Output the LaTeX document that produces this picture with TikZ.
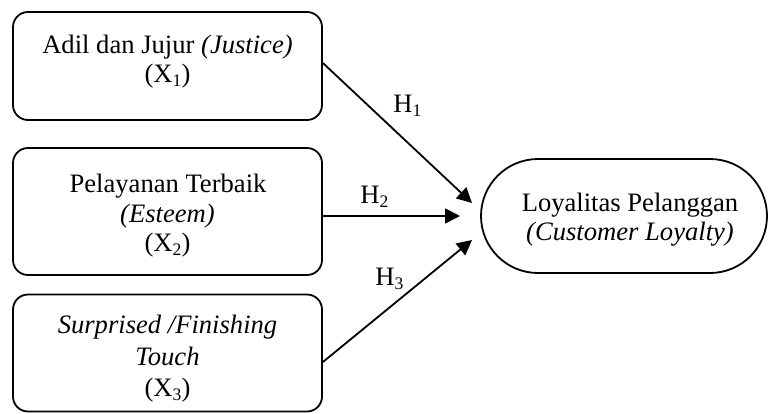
\documentclass[tikz,border=0pt]{standalone}
\usepackage{fontspec}
\setmainfont{Liberation Serif}
\usetikzlibrary{arrows.meta}
\newcommand\sbs[1]{\raisebox{-0.35ex}{\fontsize{8.8}{9}\selectfont #1}}
\begin{document}
\begin{tikzpicture}[x=0.5pt,y=-0.5pt,
  box/.style={draw,line width=0.9pt,rounded corners=7.5pt,minimum width=154.5pt,inner sep=0pt},
  stadium/.style={draw,line width=0.9pt,rounded corners=28.5pt,minimum width=143pt,minimum height=57pt,inner sep=0pt},
  txt/.style={font=\fontsize{13.3}{15}\selectfont,anchor=base,inner sep=0pt},
  hlab/.style={font=\fontsize{13.3}{15}\selectfont,anchor=base west,inner sep=0pt},
  conn/.style={line width=0.9pt,-{Triangle[length=7.5pt,width=7.5pt]}}]
\useasboundingbox (0,0) rectangle (769,413);
% boxes
\node[box,minimum height=54pt] (x1) at (167.5,66) {};
\node[box,minimum height=63.5pt] (x2) at (167.5,211.5) {};
\node[box,minimum height=58.5pt] (x3) at (167.5,353) {};
\node[stadium] (y) at (624,216) {};
% texts
\node[txt] (x1a) at (167.5,53) {Adil dan Jujur \textit{(Justice)}};
\node[txt] (x1b) at (167.5,82) {(X\sbs{1})};
\node[txt] (x2a) at (168,192) {Pelayanan Terbaik};
\node[txt] (x2b) at (167.5,222) {\textit{(Esteem)}};
\node[txt] (x2c) at (167.5,251) {(X\sbs{2})};
\node[txt] (x3a) at (167.5,333) {\textit{Surprised /Finishing}};
\node[txt] (x3b) at (167.5,365) {\textit{Touch}};
\node[txt] (x3c) at (167.5,396) {(X\sbs{3})};
\node[txt] (ya) at (630,211) {Loyalitas Pelanggan};
\node[txt] (yb) at (630,240) {\textit{(Customer Loyalty)}};
% end points of arrows
\coordinate (t1) at (472,203);
\coordinate (t2) at (460,216);
\coordinate (t3) at (472,240);
% connectors
\draw[conn] ([yshift=1.5pt]x1.east) -- (t1);
\draw[conn] ([yshift=-2.2pt]x2.east) -- (t2);
\draw[conn] ([yshift=-4.5pt]x3.east) -- (t3);
% labels
\node[hlab] (h1) at (393,112) {H\sbs{1}};
\node[hlab] (h2) at (360,203) {H\sbs{2}};
\node[hlab] (h3) at (375,285) {H\sbs{3}};
\end{tikzpicture}
\end{document}
